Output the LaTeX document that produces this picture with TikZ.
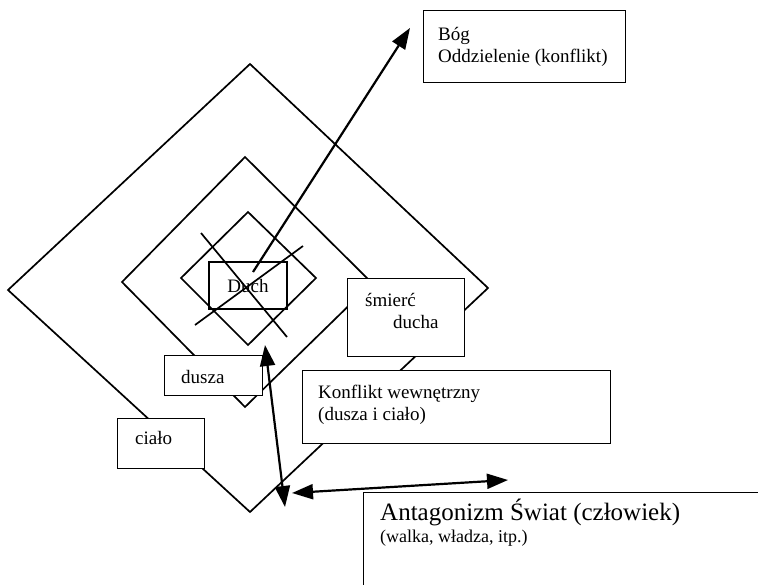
\documentclass[tikz,border=0pt]{standalone}
\usepackage{fontspec}
\setmainfont{Liberation Serif}
\usetikzlibrary{arrows.meta,positioning}

\begin{document}
\begin{tikzpicture}[x=1pt,y=-1pt,
  frame/.style={draw,line width=1.4pt,fill=white,inner sep=0pt,anchor=north west},
  lbl/.style={inner sep=0pt,anchor=base west,align=left,font=\fontsize{19}{22}\selectfont},
  ring/.style={line width=1.7pt,line join=miter},
  bigarrow/.style={line width=2.2pt,-{Triangle[length=21pt,width=15pt]}},
  twoway/.style={line width=2.2pt,{Triangle[length=21pt,width=15pt]}-{Triangle[length=21pt,width=15pt]}}]
  \useasboundingbox (0,0) rectangle (758,584);
  \clip (0,0) rectangle (758,584);

  % nested squares
  \draw[ring] (250,64) -- (488,288) -- (250,512) -- (8,290) -- cycle;
  \draw[ring] (245,157) -- (372,283) -- (245,407) -- (122,282) -- cycle;
  \draw[ring] (248,212) -- (316,278) -- (248,345) -- (181,278) -- cycle;

  % crossed lines in the centre
  \draw[ring] (201,233) -- (287,337);
  \draw[ring] (303,246) -- (195,325);

  % boxes
  \node[frame,minimum width=202pt,minimum height=72pt] (bog) at (423,10) {};
  \node[frame,minimum width=117pt,minimum height=78pt] (smierc) at (347,278) {};
  \node[frame,minimum width=308pt,minimum height=73pt] (konflikt) at (302,370) {};
  \node[frame,minimum width=98pt,minimum height=40pt] (dusza) at (164,355) {};
  \node[frame,minimum width=87pt,minimum height=50pt] (cialo) at (117,418) {};
  \node[frame,minimum width=420pt,minimum height=120pt] (antag) at (363,492) {};
  \node[draw,line width=1.4pt,minimum width=78pt,minimum height=47pt,inner sep=0pt,
        font=\fontsize{19}{22}\selectfont] (duch) at (248,285.5) {Duch};

  % labels (base = last line)
  \node[lbl] (bogtxt) at (438,62) {Bóg\\Oddzielenie (konflikt)};
  \node[lbl] (smierctxt) at (365,328) {śmierć\\\hspace*{28pt}ducha};
  \node[lbl] (duszatxt) at (181,383) {dusza};
  \node[lbl] (cialotxt) at (135,444) {ciało};
  \node[lbl] (konflikttxt) at (318,420) {Konflikt wewnętrzny\\(dusza i ciało)};
  \node[lbl,font=\fontsize{25}{28}\selectfont] (antagtxt) at (380,520) {Antagonizm Świat (człowiek)};
  \node[lbl,font=\fontsize{18}{22}\selectfont] (walkatxt) at (380,542) {(walka, władza, itp.)};

  % arrows
  \coordinate (duchfoot) at (253,272);
  \coordinate (bogtip) at (410,28);
  \draw[bigarrow] (duchfoot) -- (bogtip);
  \coordinate (duszatip) at (265,345);
  \coordinate (worldfoot) at (285,507);
  \draw[twoway] (worldfoot) -- (duszatip);
  \coordinate (worldleft) at (292,493);
  \coordinate (worldright) at (508,480);
  \draw[twoway] (worldleft) -- (worldright);
\end{tikzpicture}
\end{document}
